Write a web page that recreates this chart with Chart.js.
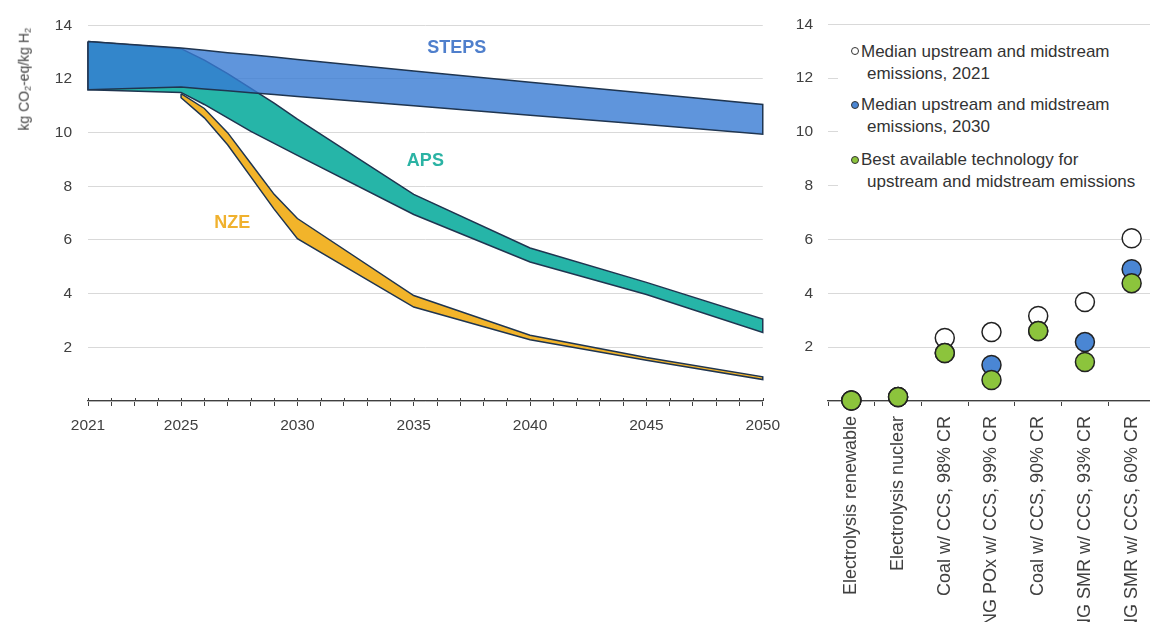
<!DOCTYPE html>
<html>
<head>
<meta charset="utf-8">
<script src="https://cdn.jsdelivr.net/npm/chart.js@4.4.1/dist/chart.umd.min.js"></script>
<style>
  html, body { margin: 0; padding: 0; background: #fff; width: 1150px; height: 622px; overflow: hidden;
    font-family: 'Liberation Sans', Arial, sans-serif; }
  #left { position: absolute; left: 0; top: 0; }
  #right { position: absolute; left: 776px; top: 0; }
  .ytitle { position: absolute; left: 15px; top: 28px; writing-mode: vertical-rl; transform: rotate(180deg);
    font-size: 14px; line-height: 18px; color: #404040; white-space: nowrap; }
  .ytitle sub { font-size: 9px; }
  .legend { position: absolute; left: 838px; top: 30px; width: 312px; height: 170px; background: #fff; }
  .mk { position: absolute; left: 13px; width: 6px; height: 6px; border: 1.5px solid #333; border-radius: 50%; }
  .txt { position: absolute; left: 29px; text-indent: -6px; font-size: 17px; line-height: 21.6px; color: #333;
    white-space: nowrap; }
</style>
</head>
<body>
<canvas id="left" width="790" height="622"></canvas>
<canvas id="right" width="390" height="760"></canvas>
<div class="ytitle">kg CO<sub>2</sub>-eq/kg H<sub>2</sub></div>
<div class="legend">
  <span class="mk" style="top:17px;background:#fff"></span>
  <div class="txt" style="top:11px">Median upstream and midstream<br>emissions, 2021</div>
  <span class="mk" style="top:71px;background:#4a86d4"></span>
  <div class="txt" style="top:64px">Median upstream and midstream<br>emissions, 2030</div>
  <span class="mk" style="top:126px;background:#8cc43c"></span>
  <div class="txt" style="top:119px">Best available technology for<br>upstream and midstream emissions</div>
</div>
<script>
// Scenario bands, kg CO2-eq/kg H2
const years = [2021, 2025, 2026, 2027, 2028, 2029, 2030, 2035, 2040, 2045, 2050];
const stepsHigh = [13.4, 13.15, 13.07, 12.98, 12.9, 12.82, 12.73, 12.3, 11.88, 11.47, 11.05];
const stepsLow = [11.6, 11.7, 11.63, 11.56, 11.49, 11.42, 11.35, 11.0, 10.65, 10.3, 9.94];
const apsHigh = [13.4, 13.13, 12.7, 12.2, 11.65, 11.1, 10.5, 7.7, 5.7, 4.42, 3.05];
const apsLow = [11.6, 11.5, 11.05, 10.55, 10.05, 9.6, 9.15, 6.95, 5.18, 3.97, 2.55];
const nzeHigh = [null, 11.45, 10.9, 10.0, 8.85, 7.7, 6.8, 3.93, 2.45, 1.62, 0.9];
const nzeLow = [null, 11.3, 10.55, 9.55, 8.35, 7.15, 6.05, 3.5, 2.28, 1.52, 0.8];

// Production routes
const routes = ['Electrolysis renewable', 'Electrolysis nuclear', 'Coal w/ CCS, 98% CR', 'NG POx w/ CCS, 99% CR',
  'Coal w/ CCS, 90% CR', 'NG SMR w/ CCS, 93% CR', 'NG SMR w/ CCS, 60% CR'];
const median2021 = [0.02, 0.15, 2.34, 2.56, 3.16, 3.68, 6.05];
const median2030 = [0.02, 0.15, 1.78, 1.34, 2.6, 2.19, 4.9];
const bestTech = [0.02, 0.15, 1.78, 0.78, 2.6, 1.45, 4.38];

const yTicks = [0, 2, 4, 6, 8, 10, 12, 14];

const FONT = "'Liberation Sans', Arial, sans-serif";
const TXT = '#404040';
Chart.defaults.font.family = FONT;
Chart.defaults.color = TXT;

// closed outline: top edge forwards, bottom edge backwards
function band(high, low) {
  const pts = [];
  years.forEach((yr, i) => { if (high[i] !== null) pts.push({ x: yr, y: high[i] }); });
  for (let i = years.length - 1; i >= 0; i--) {
    if (low[i] !== null) pts.push({ x: years[i], y: low[i] });
  }
  pts.push(pts[0]);
  return pts;
}

const scenarioLabels = {
  id: 'scenarioLabels',
  afterDatasetsDraw(chart) {
    const { ctx, scales: { x, y } } = chart;
    const spots = [
      ['STEPS', 2036.85, 13.16, '#4f7fcc'],
      ['APS', 2035.5, 8.93, '#2bb3a4'],
      ['NZE', 2027.2, 6.65, '#f0b12e']
    ];
    ctx.save();
    ctx.font = 'bold 18px ' + FONT;
    ctx.textAlign = 'center';
    ctx.textBaseline = 'middle';
    spots.forEach(([t, yr, v, c]) => {
      ctx.fillStyle = c;
      ctx.fillText(t, x.getPixelForValue(yr), y.getPixelForValue(v));
    });
    ctx.restore();
  }
};

// small ticks above the year axis too
const crossTicks = {
  id: 'crossTicks',
  afterDraw(chart) {
    const { ctx, scales: { x }, chartArea } = chart;
    ctx.save();
    ctx.strokeStyle = '#404040';
    ctx.lineWidth = 1;
    x.ticks.forEach(t => {
      const px = Math.round(x.getPixelForValue(t.value)) + 0.5;
      ctx.beginPath();
      ctx.moveTo(px, chartArea.bottom - 3);
      ctx.lineTo(px, chartArea.bottom);
      ctx.stroke();
    });
    ctx.restore();
  }
};

const yAxis = (w, pad) => ({
  min: 0, max: 14,
  afterBuildTicks: s => { s.ticks = yTicks.map(v => ({ value: v })); },
  afterFit: s => { s.width = w; },
  ticks: { padding: pad, color: TXT, font: { size: 15.5 }, callback: v => v === 0 ? '' : v },
  grid: { color: '#d9d9d9', drawTicks: false },
  border: { display: false }
});

new Chart(document.getElementById('left'), {
  type: 'line',
  data: {
    datasets: [
      { label: 'STEPS', data: band(stepsHigh, stepsLow), order: 1, fill: 'shape',
        backgroundColor: 'rgba(55,122,211,0.8)' },
      { label: 'APS', data: band(apsHigh, apsLow), order: 3, fill: 'shape', backgroundColor: '#26b5a8' },
      { label: 'NZE', data: band(nzeHigh, nzeLow), order: 2, fill: 'shape', backgroundColor: '#f2b42a' }
    ]
  },
  options: {
    responsive: false,
    animation: false,
    layout: { padding: { top: 24, right: 25, left: 0, bottom: 0 } },
    elements: {
      line: { tension: 0, borderColor: '#1f3550', borderWidth: 1.5 },
      point: { radius: 0 }
    },
    datasets: { line: { clip: 6 } },
    plugins: { legend: { display: false }, tooltip: { enabled: false } },
    scales: {
      x: {
        type: 'linear', min: 2021, max: 2050,
        afterFit: s => { s.height = 221; },
        ticks: {
          stepSize: 1, autoSkip: false, maxRotation: 0, padding: 10, color: TXT, font: { size: 15.5 },
          callback: v => (v === 2021 || v % 5 === 0) ? String(v) : ''
        },
        grid: { drawOnChartArea: false, color: '#404040', tickLength: 5 },
        border: { color: '#404040', width: 1.2 }
      },
      y: yAxis(88, 16)
    }
  },
  plugins: [scenarioLabels, crossTicks]
});

new Chart(document.getElementById('right'), {
  type: 'line',
  data: {
    labels: routes,
    datasets: [
      { label: 'Best available technology for upstream and midstream emissions', data: bestTech, order: 1,
        pointBackgroundColor: '#8cc43c', borderColor: '#222' },
      { label: 'Median upstream and midstream emissions, 2030', data: median2030, order: 2,
        pointBackgroundColor: '#4a86d4', borderColor: '#222' },
      { label: 'Median upstream and midstream emissions, 2021', data: median2021, order: 3,
        pointBackgroundColor: '#ffffff', borderColor: '#222' }
    ]
  },
  options: {
    responsive: false,
    animation: false,
    showLine: false,
    layout: { padding: { top: 24, right: 6, left: 0, bottom: 0 } },
    elements: { point: { radius: 9.5, borderWidth: 1.5 } },
    datasets: { line: { clip: false } },
    plugins: { legend: { display: false }, tooltip: { enabled: false } },
    scales: {
      x: {
        offset: true,
        afterFit: s => { s.height = 760 - 401; },
        ticks: { minRotation: 90, maxRotation: 90, autoSkip: false, padding: 10, color: TXT, font: { size: 18 } },
        grid: { offset: true, drawOnChartArea: false, color: '#404040', tickLength: 5 },
        border: { color: '#404040', width: 1.2 }
      },
      y: yAxis(52, 15)
    }
  }
});
</script>
</body>
</html>
